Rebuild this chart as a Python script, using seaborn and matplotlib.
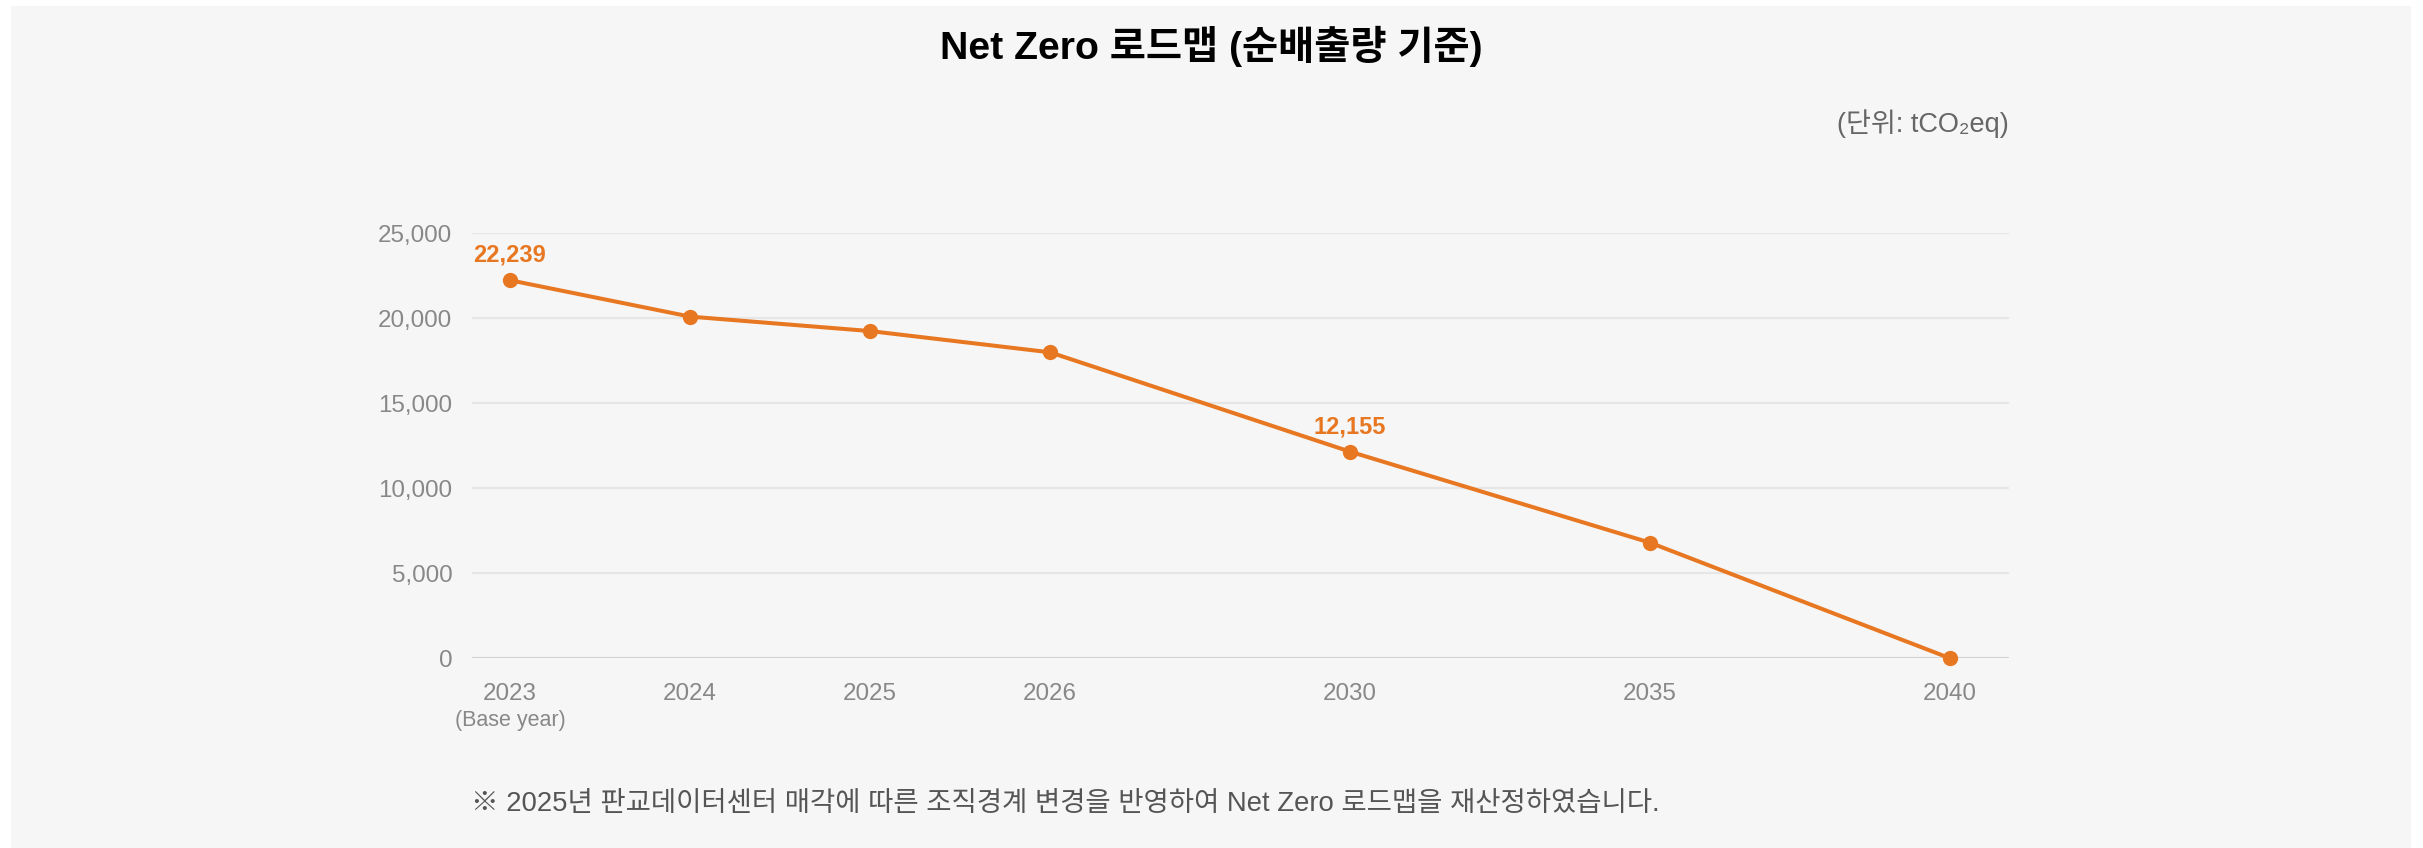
"""
Net Zero roadmap (net emissions) - line chart recreation.
"""
import matplotlib.pyplot as plt
import numpy as np
import seaborn as sns
from matplotlib.patches import Rectangle
from matplotlib.ticker import FuncFormatter

sns.set_theme(style="white")
plt.rcParams["font.family"] = ["Liberation Sans", "Noto Sans CJK KR", "DejaVu Sans"]

# ---- data ------------------------------------------------------------------
years = ["2023", "2024", "2025", "2026", "2030", "2035", "2040"]
emissions = [22239, 20100, 19250, 18000, 12155, 6800, 0]
labelled_years = ["2023", "2030"]
y_ticks = [0, 5000, 10000, 15000, 20000, 25000]

title = "Net Zero 로드맵 (순배출량 기준)"
unit_text = "(단위: tCO₂eq)"
base_year_note = "(Base year)"
footnote = "※ 2025년 판교데이터센터 매각에 따른 조직경계 변경을 반영하여 Net Zero 로드맵을 재산정하였습니다."

# ---- layout ----------------------------------------------------------------
ORANGE = "#E87722"
W, H = 2423, 848
# later milestones sit on a wider slot than the yearly ones
slot_gaps = [1, 1, 1, 5 / 3, 5 / 3, 5 / 3]
x_pos = np.concatenate([[0.0], np.cumsum(slot_gaps)])

fig = plt.figure(figsize=(W / 100, H / 100), dpi=100, facecolor="white")
fig.patches.append(Rectangle((11 / W, 0), 2400 / W, 842 / H, transform=fig.transFigure,
                             facecolor="#f6f6f6", edgecolor="none", zorder=-5))

ax = fig.add_axes([471.7 / W, (H - 658.3) / H, (2009 - 471.7) / W, (658.3 - 233.3) / H])
ax.set_facecolor("none")

sns.lineplot(x=x_pos, y=emissions, color=ORANGE, linewidth=2.9, marker="o",
             markersize=11, markeredgewidth=0, ax=ax, clip_on=False, zorder=3)

for yr, xp, val in zip(years, x_pos, emissions):
    if yr in labelled_years:
        ax.annotate(f"{val:,}", xy=(xp, val), xytext=(0, 18), textcoords="offset points",
                    ha="center", va="center", fontsize=17, fontweight="bold", color=ORANGE)

ax.set_xlim(x_pos[0] - 0.2125, x_pos[-1] + 0.327)
ax.set_ylim(0, 25000)
ax.set_yticks(y_ticks)
ax.yaxis.set_major_formatter(FuncFormatter(lambda v, _: f"{int(v):,}"))
ax.set_xticks(x_pos)
ax.set_xticklabels(years)
ax.tick_params(axis="both", length=0, labelsize=17.4, labelcolor="#888888")
ax.tick_params(axis="y", pad=14)
ax.tick_params(axis="x", pad=18)

ax.grid(axis="y", color="#e6e6e6", linewidth=1.6)
ax.grid(axis="x", visible=False)
ax.axhline(0, color="#d2d2d2", linewidth=2, zorder=1)
for side in ax.spines.values():
    side.set_visible(False)

ax.annotate(base_year_note, xy=(x_pos[0], 0), xytext=(0, -45), textcoords="offset points",
            ha="center", va="center", fontsize=15.5, color="#888888", annotation_clip=False)

fig.text(0.5, 1 - 46 / H, title, ha="center", va="center", fontsize=28.3,
         fontweight="bold", color="black")
fig.text(2009 / W, 1 - 124 / H, unit_text, ha="right", va="center", fontsize=19.5,
         color="#666666")
fig.text(471 / W, 1 - 804 / H, footnote, ha="left", va="center", fontsize=19.8,
         color="#555555")

fig.savefig("out.png", dpi=100, facecolor="white")
